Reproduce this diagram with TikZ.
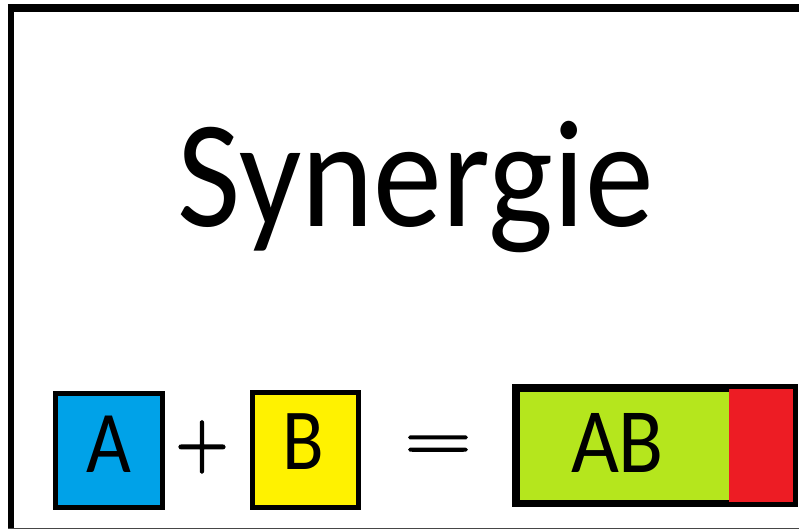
\documentclass[tikz,border=0pt]{standalone}
\usepackage{fontspec}
\setmainfont{Carlito}
\newfontfamily\opfont[FakeBold=2.5]{Latin Modern Roman}
\definecolor{pblue}{RGB}{0,162,232}
\definecolor{pyellow}{RGB}{255,242,0}
\definecolor{plime}{RGB}{181,230,29}
\definecolor{pred}{RGB}{237,28,36}
\definecolor{pgray}{RGB}{70,70,70}
\tikzset{
  box/.style={draw=black, line width=5pt, inner sep=0pt, anchor=north west},
  letter/.style={inner sep=0pt, anchor=base, text=black},
  sym/.style={inner sep=0pt, anchor=north, text=black},
}
\begin{document}
\begin{tikzpicture}[x=1pt,y=-1pt]
\useasboundingbox (0,0) rectangle (799,530);
\fill[white] (0,0) rectangle (799,530);
% frame
\draw[black, line width=6.5pt] (11,528) -- (11,7.8);
\draw[black, line width=7.5pt] (7.75,7.8) -- (799,7.8);
\draw[pgray, line width=1.5pt] (8,528.3) -- (799,528.3);
% title
\node[letter, xscale=0.9] (title) at (415.5,226) {\fontsize{153}{153}\selectfont Synergie};
% A box
\node[box, fill=pblue, minimum width=107pt, minimum height=114pt] (boxa) at (52.5,390.5) {};
\node[letter, xscale=0.88] (la) at (108.5,472) {\fontsize{88}{88}\selectfont A};
% plus
\node[sym, xscale=0.88] (plus) at (202,421) {\opfont\fontsize{82}{82}\selectfont +};
% B box
\node[box, fill=pyellow, minimum width=106pt, minimum height=115pt] (boxb) at (249.5,389.5) {};
\node[letter, xscale=0.88] (lb) at (303.5,469) {\fontsize{87}{87}\selectfont B};
% equals
\node[sym, yscale=0.76] (eq) at (438,436) {\opfont\fontsize{91}{91}\selectfont =};
% AB box
\node[box, fill=plime, minimum width=276pt, minimum height=113pt] (boxab) at (514.5,386.5) {};
\fill[pred] (729,386.5) rectangle (boxab.south east);
\draw[black, line width=5pt] (boxab.north west) rectangle (boxab.south east);
\node[letter, xscale=0.9] (lab) at (617.5,472) {\fontsize{92}{92}\selectfont AB};
\end{tikzpicture}
\end{document}
